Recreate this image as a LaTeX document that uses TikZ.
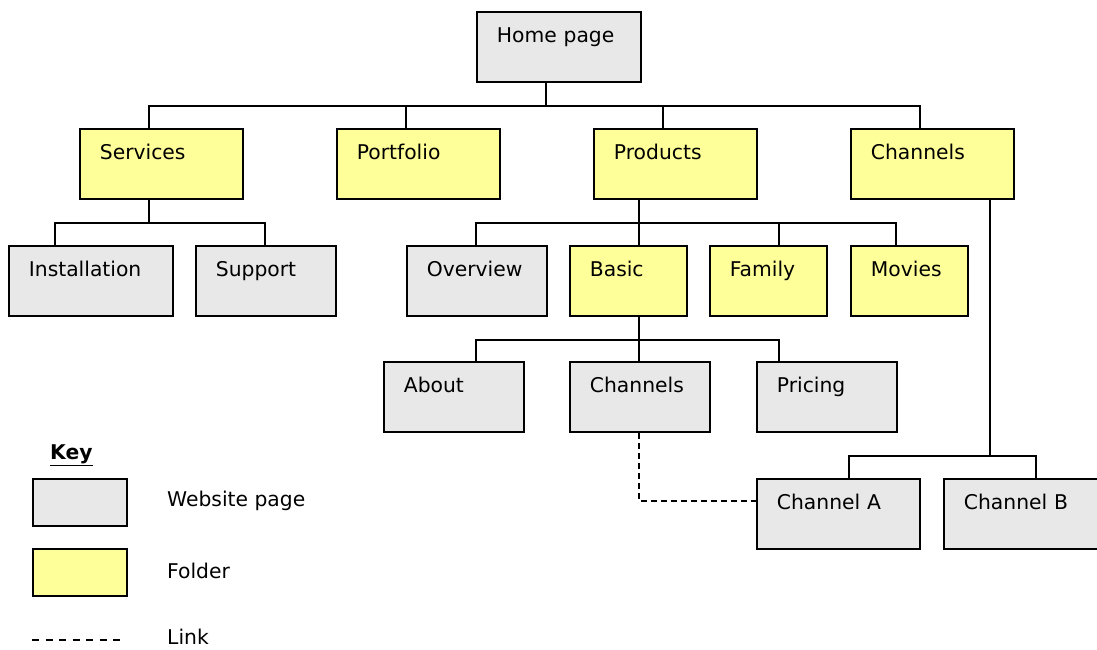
\documentclass[tikz,border=0pt]{standalone}
\usepackage{fontspec}
\setmainfont{DejaVu Sans}
\definecolor{pagegray}{HTML}{E8E8E8}
\definecolor{folderyellow}{HTML}{FFFF99}
\begin{document}
\begin{tikzpicture}[x=1pt,y=-1pt,
  box/.style={draw=black, line width=1.8pt, anchor=north west, inner xsep=20pt, inner ysep=0pt,
    text height=31pt, text depth=39pt, align=left, font=\fontsize{20.3}{24}\selectfont},
  page/.style={box, fill=pagegray},
  folder/.style={box, fill=folderyellow},
  keybox/.style={draw=black, line width=1.8pt, anchor=north west, inner sep=0pt,
    minimum width=94pt, minimum height=47pt},
  keytext/.style={anchor=west, inner sep=0pt, font=\fontsize{20.3}{24}\selectfont},
  conn/.style={line width=1.7pt},
  link/.style={line width=1.7pt, dash pattern=on 6pt off 4pt}]
\useasboundingbox (0,0) rectangle (1097,650);
% level 0
\node[page, text width=124pt] (home) at (476,11) {Home page};
% level 1
\node[folder, text width=123pt] (services) at (79,128) {Services};
\node[folder, text width=123pt] (portfolio) at (336,128) {Portfolio};
\node[folder, text width=123pt] (products) at (593,128) {Products};
\node[folder, text width=123pt] (channels) at (850,128) {Channels};
% level 2
\node[page, text width=124pt] (install) at (8,245) {Installation};
\node[page, text width=100pt] (support) at (195,245) {Support};
\node[page, text width=100pt] (overview) at (406,245) {Overview};
\node[folder, text width=77pt] (basic) at (569,245) {Basic};
\node[folder, text width=77pt] (family) at (709,245) {Family};
\node[folder, text width=77pt] (movies) at (850,245) {Movies};
% level 3
\node[page, text width=100pt] (about) at (383,361) {About};
\node[page, text width=100pt] (chanpage) at (569,361) {Channels};
\node[page, text width=100pt] (pricing) at (756,361) {Pricing};
% level 4
\node[page, text width=123pt] (chA) at (756,478) {Channel A};
\node[page, text width=120pt] (chB) at (943,478) {Channel B};
% connectors
\draw[conn] ([xshift=70pt]home.south west) -- ++(0,23) -| ([xshift=70pt]services.north west);
\draw[conn] ([xshift=70pt]home.south west) -- ++(0,23) -| ([xshift=70pt]portfolio.north west);
\draw[conn] ([xshift=70pt]home.south west) -- ++(0,23) -| ([xshift=70pt]products.north west);
\draw[conn] ([xshift=70pt]home.south west) -- ++(0,23) -| ([xshift=70pt]channels.north west);
\draw[conn] ([xshift=70pt]services.south west) -- ++(0,23.5) -| ([xshift=47pt]install.north west);
\draw[conn] ([xshift=70pt]services.south west) -- ++(0,23.5) -| ([xshift=70pt]support.north west);
\draw[conn] ([xshift=46pt]products.south west) -- ++(0,23.5) -| ([xshift=70pt]overview.north west);
\draw[conn] ([xshift=46pt]products.south west) -- ++(0,23.5) -| ([xshift=70pt]basic.north west);
\draw[conn] ([xshift=46pt]products.south west) -- ++(0,23.5) -| ([xshift=70pt]family.north west);
\draw[conn] ([xshift=46pt]products.south west) -- ++(0,23.5) -| ([xshift=46pt]movies.north west);
\draw[conn] ([xshift=70pt]basic.south west) -- ++(0,23) -| ([xshift=93pt]about.north west);
\draw[conn] ([xshift=70pt]basic.south west) -- ++(0,23) -| ([xshift=70pt]chanpage.north west);
\draw[conn] ([xshift=70pt]basic.south west) -- ++(0,23) -| ([xshift=23pt]pricing.north west);
\draw[conn] ([xshift=140pt]channels.south west) -- ++(0,256) -| ([xshift=93pt]chA.north west);
\draw[conn] ([xshift=140pt]channels.south west) -- ++(0,256) -| ([xshift=93pt]chB.north west);
\draw[link] ([xshift=70pt]chanpage.south west) |- ([yshift=-23pt]chA.north west);
% key
\node[keytext, font=\fontsize{20.3}{24}\selectfont\bfseries] (keyhead) at (50,455) {\underline{Key}};
\node[keybox, fill=pagegray] (keypage) at (32,478) {};
\node[keybox, fill=folderyellow] (keyfolder) at (32,548) {};
\coordinate (linkA) at (32,640);
\coordinate (linkB) at (120,640);
\draw[line width=1.7pt, dash pattern=on 7pt off 6.5pt] (linkA) -- (linkB);
\node[keytext] (keypagetxt) at (167,501) {Website page};
\node[keytext] (keyfoldertxt) at (167,571) {Folder};
\node[keytext] (keylinktxt) at (167,637) {Link};
\end{tikzpicture}
\end{document}
